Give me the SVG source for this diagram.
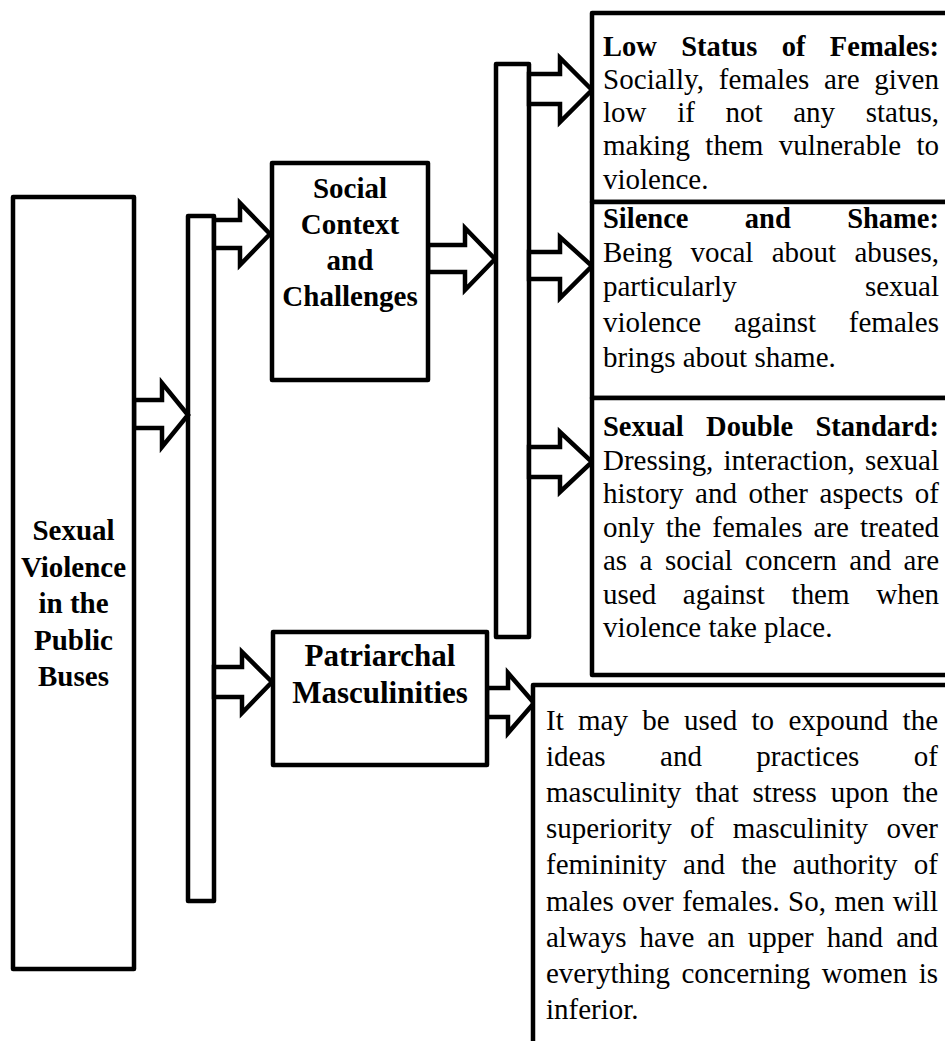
<svg xmlns="http://www.w3.org/2000/svg" width="945" height="1041" viewBox="0 0 945 1041">
<style>
.box{fill:#fff;stroke:#000;stroke-width:4.5;stroke-linejoin:round}
.arr{fill:#fff;stroke:#000;stroke-width:4.5;stroke-linejoin:miter}
.t{font-family:"Liberation Serif","Times New Roman",serif;font-size:29px;fill:#000}
.b{font-weight:bold}
.h{font-family:"Liberation Serif","Times New Roman",serif;font-size:29px;font-weight:bold;fill:#000;text-anchor:middle}
</style>
<rect width="945" height="1041" fill="#fff"/>
<g id="connectors">
<rect id="bar1" class="box" x="188" y="216" width="26" height="685"/>
<rect id="bar2" class="box" x="496" y="64" width="33" height="573"/>
<polygon class="arr" points="134,400 162,400 162,383 188,415 162,447 162,428 134,428"/>
<polygon class="arr" points="214,220 240,220 240,203 270,234 240,265 240,248 214,248"/>
<polygon class="arr" points="214,667 242,667 242,652 272,682 242,713 242,697 214,697"/>
<polygon class="arr" points="428,245 465,245 465,228 495,259 465,290 465,272 428,272"/>
<polygon class="arr" points="529,74 560,74 560,58 592,90 560,122 560,104 529,104"/>
<polygon class="arr" points="529,252 560,252 560,237 592,266 560,298 560,279 529,279"/>
<polygon class="arr" points="529,447 560,447 560,432 592,462 560,492 560,477 529,477"/>
<polygon class="arr" points="487,688 508,688 508,673 534,703 508,733 508,717 487,717"/>
</g>
<g id="n-main">
<rect class="box" x="13" y="197" width="121" height="772"/>
<text class="h" x="73.5" y="540">Sexual</text>
<text class="h" x="73.5" y="576.5">Violence</text>
<text class="h" x="73.5" y="613">in the</text>
<text class="h" x="73.5" y="649.5">Public</text>
<text class="h" x="73.5" y="686">Buses</text>
</g>
<g id="n-social">
<rect class="box" x="272" y="163" width="156" height="217"/>
<text class="h" x="350" y="197.5">Social</text>
<text class="h" x="350" y="234">Context</text>
<text class="h" x="350" y="269.5">and</text>
<text class="h" x="350" y="305.5">Challenges</text>
</g>
<g id="n-patriarchal">
<rect class="box" x="273" y="632" width="214" height="133"/>
<text class="h" x="380" y="665.5" style="font-size:31px">Patriarchal</text>
<text class="h" x="380" y="703" style="font-size:31px">Masculinities</text>
</g>
<g id="n-low">
<rect class="box" x="592" y="13" width="400" height="189"/>
<text class="t b" x="603" y="56" style="font-size:28.5px" word-spacing="17.3" textLength="336" lengthAdjust="spacing">Low Status of Females:</text>
<text class="t" x="603" y="89" word-spacing="7.3" textLength="336" lengthAdjust="spacing">Socially, females are given</text>
<text class="t" x="603" y="122" word-spacing="23.4" textLength="336" lengthAdjust="spacing">low if not any status,</text>
<text class="t" x="603" y="155" word-spacing="8.1" textLength="336" lengthAdjust="spacing">making them vulnerable to</text>
<text class="t" x="603" y="189">violence.</text>
</g>
<g id="n-silence">
<rect class="box" x="592" y="202" width="400" height="196"/>
<text class="t b" x="603" y="228" style="font-size:28.5px" word-spacing="49.2" textLength="336" lengthAdjust="spacing">Silence and Shame:</text>
<text class="t" x="603" y="261.5" word-spacing="11.1" textLength="336" lengthAdjust="spacing">Being vocal about abuses,</text>
<text class="t" x="603" y="296" word-spacing="121" textLength="336" lengthAdjust="spacing">particularly sexual</text>
<text class="t" x="603" y="331.5" word-spacing="25.5" textLength="336" lengthAdjust="spacing">violence against females</text>
<text class="t" x="603" y="366.5">brings about shame.</text>
</g>
<g id="n-double">
<rect class="box" x="592" y="398" width="400" height="277"/>
<text class="t b" x="603" y="436" style="font-size:28.5px" word-spacing="15.2" textLength="336" lengthAdjust="spacing">Sexual Double Standard:</text>
<text class="t" x="603" y="469.5" word-spacing="2.9" textLength="336" lengthAdjust="spacing">Dressing, interaction, sexual</text>
<text class="t" x="603" y="503" word-spacing="4.3" textLength="336" lengthAdjust="spacing">history and other aspects of</text>
<text class="t" x="603" y="536.5" word-spacing="3.9" textLength="336" lengthAdjust="spacing">only the females are treated</text>
<text class="t" x="603" y="570" word-spacing="5.2" textLength="336" lengthAdjust="spacing">as a social concern and are</text>
<text class="t" x="603" y="603.5" word-spacing="19.4" textLength="336" lengthAdjust="spacing">used against them when</text>
<text class="t" x="603" y="637">violence take place.</text>
</g>
<g id="n-desc">
<rect class="box" x="533" y="685" width="450" height="400"/>
<text class="t" x="546" y="729.5" word-spacing="7.1" textLength="392" lengthAdjust="spacing">It may be used to expound the</text>
<text class="t" x="546" y="765.5" word-spacing="47.2" textLength="392" lengthAdjust="spacing">ideas and practices of</text>
<text class="t" x="546" y="801.5" word-spacing="6.6" textLength="392" lengthAdjust="spacing">masculinity that stress upon the</text>
<text class="t" x="546" y="838" word-spacing="11.2" textLength="392" lengthAdjust="spacing">superiority of masculinity over</text>
<text class="t" x="546" y="874" word-spacing="9" textLength="392" lengthAdjust="spacing">femininity and the authority of</text>
<text class="t" x="546" y="910.5" word-spacing="1.2" textLength="392" lengthAdjust="spacing">males over females. So, men will</text>
<text class="t" x="546" y="946.5" word-spacing="5.8" textLength="392" lengthAdjust="spacing">always have an upper hand and</text>
<text class="t" x="546" y="982.5" word-spacing="4.2" textLength="392" lengthAdjust="spacing">everything concerning women is</text>
<text class="t" x="546" y="1018.5">inferior.</text>
</g>
</svg>
